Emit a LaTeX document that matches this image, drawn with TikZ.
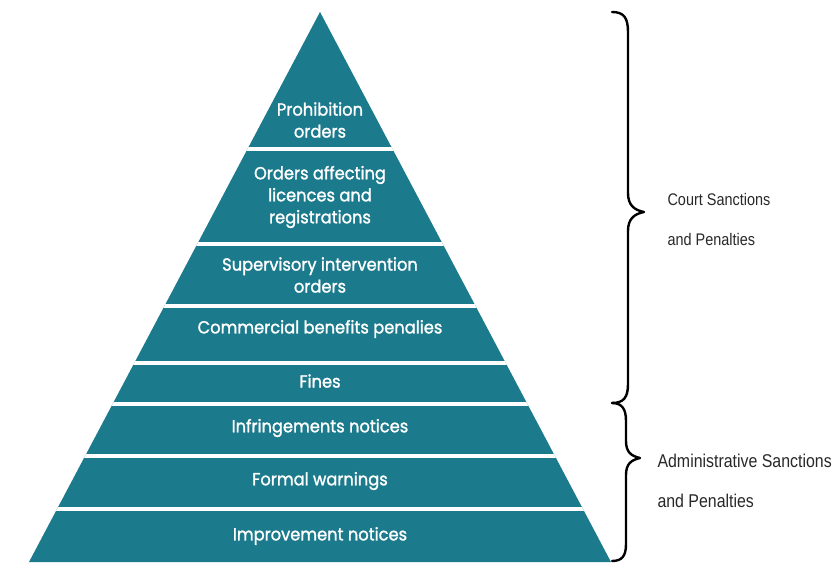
\documentclass[tikz,border=0pt]{standalone}
\usepackage{fontspec}
\setmainfont{Poppins}
\newfontfamily\tierfont[FakeStretch=0.93,FakeBold=1.4]{Poppins}
\newfontfamily\labelfont[FakeStretch=0.86]{Liberation Sans}
\begin{document}
\definecolor{tealband}{RGB}{27,122,140}
\definecolor{labelgrey}{RGB}{40,40,40}
\begin{tikzpicture}[x=1pt,y=-1pt,
  tier/.style={text=white,align=center,font=\tierfont\fontsize{17.5}{22}\selectfont},
  sidelabel/.style={text=labelgrey,align=left,anchor=west},
  gap/.style={white,line width=4pt},
  bracket/.style={black,line width=2.4pt,line cap=round,line join=round}]
\useasboundingbox (0,0) rectangle (838,569);

% pyramid body
\coordinate (apex) at (320,12);
\coordinate (bl) at (29,562);
\coordinate (br) at (611,562);
\fill[tealband] (apex) -- (br) -- (bl) -- cycle;

% white separators between the tiers
\begin{scope}
  \clip (apex) -- (br) -- (bl) -- cycle;
  \foreach \yy in {149,244,306,363,404,456,509}
    \draw[gap] (0,\yy) -- (640,\yy);
\end{scope}

% tier captions
\node[tier] (t1) at (320,120) {Prohibition\\orders};
\node[tier] (t2) at (320,197) {Orders affecting\\licences and\\registrations};
\node[tier] (t3) at (320,275) {Supervisory intervention\\orders};
\node[tier] (t4) at (320,329) {Commercial benefits penalies};
\node[tier] (t5) at (320,381) {Fines};
\node[tier] (t6) at (320,428) {Infringements notices};
\node[tier] (t7) at (320,481) {Formal warnings};
\node[tier] (t8) at (320,536) {Improvement notices};

% braces
\draw[bracket] (612,12) .. controls (624,12) and (628,18) .. (628,32)
  -- (628,193) .. controls (628,205) and (634,210) .. (644,212)
  .. controls (634,214) and (628,219) .. (628,231)
  -- (628,384) .. controls (628,397) and (624,403) .. (612,403);
\draw[bracket] (612,403) .. controls (622,403) and (626,409) .. (626,421)
  -- (626,441) .. controls (626,452) and (631,456) .. (640,458)
  .. controls (631,460) and (626,464) .. (626,475)
  -- (626,544) .. controls (626,556) and (622,561) .. (612,561);

% group labels
\node[sidelabel,font=\labelfont\fontsize{16.8}{40}\selectfont] (court) at (664,219) {Court Sanctions\\and Penalties};
\node[sidelabel,font=\labelfont\fontsize{18.5}{40}\selectfont] (admin) at (654,481) {Administrative Sanctions\\and Penalties};
\end{tikzpicture}
\end{document}
